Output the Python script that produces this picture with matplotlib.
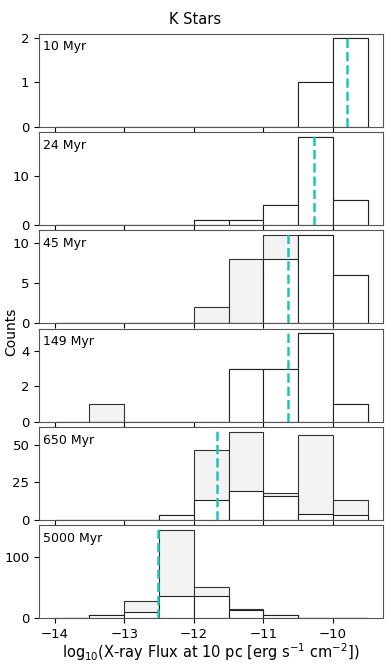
import matplotlib
matplotlib.use('Agg')
import matplotlib.pyplot as plt
import numpy as np

bin_edges = [-14.0, -13.5, -13.0, -12.5, -12.0, -11.5, -11.0, -10.5, -10.0, -9.5]
ages = ['10 Myr', '24 Myr', '45 Myr', '149 Myr', '650 Myr', '5000 Myr']

# total counts (incl. upper limits) per bin
total_10 = [0, 0, 0, 0, 0, 0, 0, 1, 2]
total_24 = [0, 0, 0, 0, 1, 1, 4, 18, 5]
total_45 = [0, 0, 0, 0, 2, 8, 11, 11, 6]
total_149 = [0, 1, 0, 0, 0, 3, 3, 5, 1]
total_650 = [0, 0, 0, 3, 47, 59, 18, 57, 13]
total_5000 = [0, 6, 29, 145, 52, 15, 5, 0, 1]

# detections per bin
det_10 = [0, 0, 0, 0, 0, 0, 0, 1, 2]
det_24 = [0, 0, 0, 0, 1, 1, 4, 18, 5]
det_45 = [0, 0, 0, 0, 0, 0, 8, 11, 6]
det_149 = [0, 0, 0, 0, 0, 3, 3, 5, 1]
det_650 = [0, 0, 0, 3, 13, 19, 16, 4, 3]
det_5000 = [0, 6, 10, 36, 36, 13, 5, 0, 1]

# median log flux per age
medians = [-9.80, -10.27, -10.64, -10.64, -11.67, -12.52]

totals = [total_10, total_24, total_45, total_149, total_650, total_5000]
dets = [det_10, det_24, det_45, det_149, det_650, det_5000]

fig, axes = plt.subplots(6, 1, figsize=(3.91, 6.64), dpi=100, sharex=True)
fig.subplots_adjust(left=0.10, right=0.98, top=0.949, bottom=0.069, hspace=0.06)

centers = (np.array(bin_edges[:-1]) + np.array(bin_edges[1:])) / 2
for ax, age, tot, det, med in zip(axes, ages, totals, dets, medians):
    ax.hist(centers, bins=bin_edges, weights=tot, histtype='bar',
            color='#f3f3f3', edgecolor='#333333', linewidth=0.8)
    ax.hist(centers, bins=bin_edges, weights=det, histtype='bar',
            color='white', edgecolor='#222222', linewidth=0.8)
    ax.axvline(med, color='#1cc4c4', linestyle='--', linewidth=1.8)
    ax.text(0.012, 0.93, age, transform=ax.transAxes, ha='left', va='top', fontsize=9)
    ax.tick_params(labelsize=9.5)
    for s in ax.spines.values():
        s.set_color('#555555')

fig.text(0.5, 0.971, 'K Stars', ha='center', va='center', fontsize=10.5)
axes[-1].set_xticks([-14, -13, -12, -11, -10])
axes[-1].set_xlabel(r'log$_{10}$(X-ray Flux at 10 pc [erg s$^{-1}$ cm$^{-2}$])',
                    fontsize=10.5, labelpad=0.5)
fig.text(0.03, 0.5, 'Counts', rotation=90, va='center', ha='center', fontsize=10)

plt.savefig('out.png')
